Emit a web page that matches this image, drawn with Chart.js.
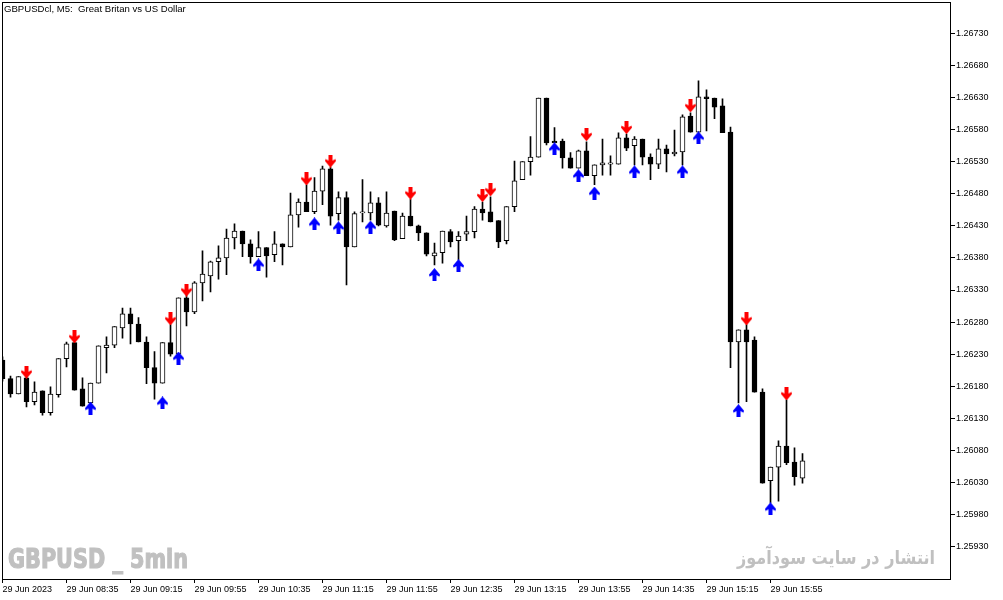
<!DOCTYPE html>
<html>
<head>
<meta charset="utf-8">
<script src="https://cdn.jsdelivr.net/npm/chart.js@4.4.0/dist/chart.umd.min.js"></script>
<style>
html, body { margin: 0; padding: 0; background: #fff; }
canvas { display: block; }
</style>
</head>
<body>
<canvas id="priceChart" width="1003" height="600"></canvas>
<script>
// GBPUSD M5 candles, 29 Jun 2023 from 07:55
const opens = [1.26221,1.26192,1.26168,1.26193,1.26156,1.26173,1.26139,1.26167,1.26223,1.26248,
  1.26176,1.26154,1.26185,1.26240,1.26244,1.26271,1.26293,1.26277,1.26249,1.26209,
  1.26185,1.26248,1.26230,1.26318,1.26296,1.26341,1.26352,1.26374,1.26380,1.26411,
  1.26422,1.26402,1.26382,1.26396,1.26385,1.26402,1.26397,1.26447,1.26467,1.26452,
  1.26484,1.26519,1.26449,1.26474,1.26397,1.26450,1.26450,1.26466,1.26430,1.26453,
  1.26410,1.26445,1.26430,1.26419,1.26383,1.26388,1.26421,1.26407,1.26417,1.26421,
  1.26456,1.26452,1.26438,1.26407,1.26460,1.26502,1.26530,1.26537,1.26629,1.26562,
  1.26562,1.26536,1.26520,1.26547,1.26508,1.26525,1.26526,1.26526,1.26567,1.26555,
  1.26565,1.26537,1.26526,1.26550,1.26542,1.26545,1.26601,1.26576,1.26631,1.26629,
  1.26617,1.26576,1.26249,1.26268,1.26252,1.26171,1.26033,1.26054,1.26087,1.26062,
  1.26037];
const highs = [1.26226,1.26196,1.26195,1.26196,1.26187,1.26173,1.26179,1.26223,1.26249,1.26249,
  1.26193,1.26185,1.26243,1.26257,1.26273,1.26302,1.26302,1.26287,1.26257,1.26234,
  1.26248,1.26276,1.26318,1.26333,1.26343,1.26391,1.26375,1.26399,1.26425,1.26433,
  1.26422,1.26408,1.26421,1.26396,1.26421,1.26402,1.26481,1.26472,1.26494,1.26505,
  1.26523,1.26522,1.26483,1.26483,1.26452,1.26502,1.26483,1.26474,1.26483,1.26453,
  1.26450,1.26472,1.26431,1.26419,1.26403,1.26422,1.26424,1.26421,1.26445,1.26460,
  1.26467,1.26475,1.26438,1.26460,1.26531,1.26530,1.26569,1.26629,1.26629,1.26583,
  1.26565,1.26544,1.26548,1.26561,1.26525,1.26565,1.26539,1.26575,1.26573,1.26569,
  1.26565,1.26542,1.26565,1.26556,1.26579,1.26603,1.26606,1.26656,1.26642,1.26629,
  1.26628,1.26584,1.26268,1.26276,1.26257,1.26176,1.26054,1.26095,1.26159,1.26084,
  1.26075];
const lows = [1.26188,1.26163,1.26168,1.26148,1.26151,1.26135,1.26135,1.26163,1.26210,1.26174,
  1.26149,1.26153,1.26185,1.26201,1.26240,1.26255,1.26246,1.26249,1.26184,1.26160,
  1.26185,1.26227,1.26229,1.26274,1.26293,1.26313,1.26327,1.26347,1.26354,1.26394,
  1.26382,1.26372,1.26382,1.26350,1.26374,1.26369,1.26397,1.26428,1.26452,1.26449,
  1.26463,1.26431,1.26439,1.26338,1.26397,1.26436,1.26439,1.26430,1.26428,1.26407,
  1.26410,1.26430,1.26407,1.26383,1.26369,1.26372,1.26397,1.26377,1.26407,1.26411,
  1.26439,1.26436,1.26396,1.26402,1.26452,1.26502,1.26509,1.26537,1.26556,1.26559,
  1.26520,1.26520,1.26520,1.26508,1.26494,1.26509,1.26509,1.26526,1.26547,1.26525,
  1.26525,1.26502,1.26519,1.26514,1.26539,1.26525,1.26576,1.26576,1.26578,1.26597,
  1.26575,1.26209,1.26154,1.26156,1.26171,1.26029,1.25998,1.26001,1.26058,1.26026,
  1.26029];
const closes = [1.26192,1.26168,1.26195,1.26156,1.26171,1.26139,1.26168,1.26223,1.26246,1.26174,
  1.26149,1.26185,1.26243,1.26244,1.26273,1.26293,1.26277,1.26249,1.26209,1.26185,
  1.26248,1.26230,1.26318,1.26296,1.26341,1.26355,1.26374,1.26380,1.26411,1.26422,
  1.26402,1.26382,1.26396,1.26383,1.26402,1.26397,1.26447,1.26467,1.26452,1.26484,
  1.26519,1.26445,1.26474,1.26397,1.26449,1.26452,1.26466,1.26431,1.26450,1.26408,
  1.26445,1.26430,1.26419,1.26386,1.26388,1.26422,1.26405,1.26414,1.26421,1.26456,
  1.26450,1.26436,1.26405,1.26460,1.26500,1.26530,1.26537,1.26629,1.26559,1.26559,
  1.26536,1.26520,1.26547,1.26508,1.26525,1.26528,1.26528,1.26567,1.26551,1.26565,
  1.26537,1.26526,1.26550,1.26542,1.26545,1.26600,1.26576,1.26631,1.26628,1.26615,
  1.26575,1.26249,1.26268,1.26249,1.26171,1.26029,1.26054,1.26087,1.26061,1.26039,
  1.26064];

// indicator arrows: candle index + price where the arrow sits
const sellIdx = [3, 9, 21, 23, 38, 41, 51, 60, 61, 73, 78, 86, 93, 98];
const sellPrice = [1.26202, 1.26257, 1.26285, 1.26330, 1.26503, 1.26531, 1.26481, 1.26477,
  1.26486, 1.26572, 1.26583, 1.26617, 1.26285, 1.26168];
const buyIdx = [11, 20, 22, 32, 39, 42, 46, 54, 57, 69, 72, 74, 79, 85, 87, 92, 96];
const buyPrice = [1.26146, 1.26154, 1.26224, 1.26369, 1.26433, 1.26427, 1.26428, 1.26354,
  1.26368, 1.26550, 1.26508, 1.26481, 1.26514, 1.26514, 1.26567, 1.26142, 1.25989];

const priceTicks = [1.25930, 1.25980, 1.26030, 1.26080, 1.26130, 1.26180, 1.26230, 1.26280,
  1.26330, 1.26380, 1.26430, 1.26480, 1.26530, 1.26580, 1.26630, 1.26680, 1.26730];
const timeLabels = ['29 Jun 2023', '29 Jun 08:35', '29 Jun 09:15', '29 Jun 09:55', '29 Jun 10:35',
  '29 Jun 11:15', '29 Jun 11:55', '29 Jun 12:35', '29 Jun 13:15', '29 Jun 13:55',
  '29 Jun 14:35', '29 Jun 15:15', '29 Jun 15:55'];

const axisFont = { family: 'Liberation Sans', size: 9 };

const makeArrow = (color, down) => {
    const c = document.createElement('canvas');
    c.width = 11;
    c.height = 13;
    const g = c.getContext('2d');
    if (!down) {
        g.translate(0, 13);
        g.scale(1, -1);
    }
    g.fillStyle = color;
    g.beginPath();
    g.moveTo(3.5, 0);
    g.lineTo(7.5, 0);
    g.lineTo(7.5, 6);
    g.lineTo(10.5, 4.5);
    g.lineTo(11, 6.5);
    g.lineTo(5.5, 13);
    g.lineTo(0, 6.5);
    g.lineTo(0.5, 4.5);
    g.lineTo(3.5, 6);
    g.closePath();
    g.fill();
    return c;
};

const candles = opens.map((o, i) => i);
const bodies = candles.map(i => ({ x: i, y: [opens[i], closes[i]] }));
const wicks = candles.map(i => ({ x: i, y: [lows[i], highs[i]] }));
const bodyColors = candles.map(i => (closes[i] > opens[i] ? '#ffffff' : '#000000'));

const drawFitted = (ctx, text, font, color, left, baseline, width, heavy) => {
    ctx.save();
    ctx.font = font;
    ctx.fillStyle = color;
    ctx.strokeStyle = color;
    ctx.textAlign = 'left';
    ctx.textBaseline = 'alphabetic';
    const w = ctx.measureText(text).width;
    ctx.translate(left, baseline);
    ctx.scale(width / w, 1);
    ctx.fillText(text, 0, 0);
    if (heavy) {
        ctx.lineWidth = heavy;
        ctx.strokeText(text, 0, 0);
    }
    ctx.restore();
};

const frame = {
    id: 'frame',
    beforeDatasetsDraw(chart) {
        const ctx = chart.ctx;
        drawFitted(ctx, 'GBPUSD _ 5min', 'bold 26px "DejaVu Sans"', '#c0c0c0', 8, 568, 180, 1.2);
        drawFitted(ctx, 'انتشار در سایت سودآموز', 'bold 19px "DejaVu Sans"', '#c0c0c0', 737, 564, 198, 0);
    },
    afterDraw(chart) {
        const ctx = chart.ctx;
        const a = chart.chartArea;
        ctx.save();
        ctx.strokeStyle = '#000';
        ctx.lineWidth = 1;
        const l = Math.floor(a.left) + 0.5;
        const t = Math.floor(a.top) - 0.5;
        const r = Math.floor(a.right) + 0.5;
        const b = Math.floor(a.bottom) + 0.5;
        ctx.strokeRect(l, t, r - l, b - t);
        ctx.fillStyle = '#000';
        ctx.font = '9.6px "Liberation Sans"';
        ctx.textBaseline = 'alphabetic';
        ctx.fillText('GBPUSDcl, M5:  Great Britan vs US Dollar', 4, 12);
        ctx.restore();
    },
};

const ctx = document.getElementById('priceChart').getContext('2d');
const priceChart = new Chart(ctx, {
    type: 'bar',
    data: {
        datasets: [{
            type: 'scatter',
            label: 'Sell',
            data: sellIdx.map((x, k) => ({ x: x, y: sellPrice[k] })),
            pointStyle: makeArrow('#ff0000', true),
            pointRadius: 5,
        }, {
            type: 'scatter',
            label: 'Buy',
            data: buyIdx.map((x, k) => ({ x: x, y: buyPrice[k] })),
            pointStyle: makeArrow('#0000ff', false),
            pointRadius: 5,
        }, {
            label: 'Body',
            data: bodies,
            backgroundColor: bodyColors,
            borderColor: '#000000',
            borderWidth: 1,
            borderSkipped: false,
            barThickness: 5,
            minBarLength: 1,
            grouped: false,
        }, {
            label: 'Wick',
            data: wicks,
            backgroundColor: '#000000',
            borderWidth: 0,
            barThickness: 1,
            grouped: false,
        }],
    },
    options: {
        responsive: false,
        animation: false,
        layout: { autoPadding: false, padding: { left: 2.5, top: 3, right: 0, bottom: 0 } },
        plugins: { legend: { display: false }, tooltip: { enabled: false } },
        scales: {
            x: {
                type: 'linear',
                min: 0,
                max: 118.4375,
                offset: false,
                grid: { drawOnChartArea: false, drawTicks: true, tickLength: 4, color: '#000', offset: false },
                border: { display: false },
                ticks: {
                    align: 'start',
                    autoSkip: false,
                    maxRotation: 0,
                    padding: 1,
                    color: '#000',
                    font: axisFont,
                    callback: (v, i) => timeLabels[i],
                },
                afterBuildTicks: s => { s.ticks = timeLabels.map((t, i) => ({ value: i * 8 })); },
                afterFit: s => {
                    s.height = 21;
                    s.paddingLeft = 0;
                    s.paddingRight = 0;
                },
            },
            y: {
                position: 'right',
                min: 1.258797,
                max: 1.267772,
                grid: { drawOnChartArea: false, drawTicks: true, tickLength: 5, color: '#000' },
                border: { display: false },
                ticks: {
                    padding: 1,
                    color: '#000',
                    font: axisFont,
                    callback: v => v.toFixed(5),
                },
                afterBuildTicks: s => { s.ticks = priceTicks.map(v => ({ value: v })); },
                afterFit: s => {
                    s.width = 53;
                    s.paddingTop = 0;
                    s.paddingBottom = 0;
                },
            },
        },
    },
    plugins: [frame],
});
</script>
</body>
</html>
